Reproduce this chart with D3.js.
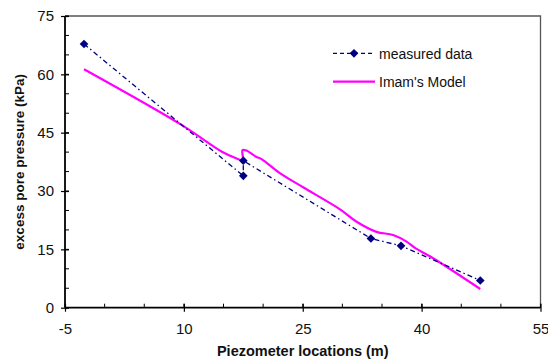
<!DOCTYPE html>
<html><head><meta charset="utf-8">
<script src="https://cdn.jsdelivr.net/npm/d3@7"></script>
<style>
body{margin:0;background:#fff;}
svg{display:block;font-family:"Liberation Sans",Arial,sans-serif;}
</style></head>
<body><svg id="c" width="548" height="360"></svg>
<script>
// Data
const measuredX = [-2.6, 17.5, 17.5, 33.6, 37.4, 47.4];
const measuredY = [67.8, 33.9, 37.8, 17.8, 15.9, 7.0];
const modelX = [-2.6, 9.7, 14.8, 16.3, 17.4, 17.4, 17.9, 19.1, 19.8, 22.1, 25.1, 29.7, 31.8, 34.3, 36.4, 38.1, 39.2, 41.3, 47.4];
const modelY = [61.3, 47.0, 40.1, 38.7, 38.0, 40.5, 40.4, 38.8, 38.2, 34.6, 30.9, 25.3, 22.1, 19.5, 18.7, 17.0, 15.3, 12.9, 4.8];
const xTicks = [-5, 10, 25, 40, 55];
const yTicks = [0, 15, 30, 45, 60, 75];
const xMinor = d3.range(-5, 55.1, 5);
const yMinor = d3.range(0, 75.1, 5);
const seriesNames = ["measured data", "Imam's Model"];
const xTitle = "Piezometer locations (m)";
const yTitle = "excess pore pressure (kPa)";

const svg = d3.select("#c");
const x = d3.scaleLinear().domain([-5, 55]).range([65, 540.5]);
const y = d3.scaleLinear().domain([0, 75]).range([307.7, 16]);

// frame (top, right)
svg.append("path")
  .attr("d", `M${x(-5)},${y(75)}H${x(55)}V${y(0)}`)
  .attr("fill", "none").attr("stroke", "#555").attr("stroke-width", 1.3);

// minor ticks (inside)
svg.append("g").selectAll("line").data(xMinor).join("line")
  .attr("x1", d => x(d)).attr("x2", d => x(d))
  .attr("y1", y(0)).attr("y2", y(0) - 4)
  .attr("stroke", "#000").attr("stroke-width", 1);
svg.append("g").selectAll("line").data(yMinor).join("line")
  .attr("y1", d => y(d)).attr("y2", d => y(d))
  .attr("x1", x(-5)).attr("x2", x(-5) + 4)
  .attr("stroke", "#000").attr("stroke-width", 1);

// axes via d3
const fmt = d => String(d);
const xAxis = svg.append("g").attr("transform", `translate(0,${y(0)})`)
  .call(d3.axisBottom(x).tickValues(xTicks).tickSize(4).tickPadding(12).tickFormat(fmt));
const yAxis = svg.append("g").attr("transform", `translate(${x(-5)},0)`)
  .call(d3.axisLeft(y).tickValues(yTicks).tickSize(4).tickPadding(7).tickFormat(fmt));
[xAxis, yAxis].forEach(g => {
  g.select(".domain").attr("stroke", "#000").attr("stroke-width", 1.8);
  g.selectAll(".tick line").attr("stroke", "#000").attr("stroke-width", 1.2);
  g.selectAll("text").attr("font-size", 15).attr("fill", "#111")
    .attr("font-family", "'Liberation Sans',Arial,sans-serif");
});
xAxis.selectAll(".tick line").attr("y1", -4);
yAxis.selectAll(".tick line").attr("x1", 4);
yAxis.select(".domain").attr("d", `M0,${y(75)}V${y(0)}`);
xAxis.select(".domain").attr("d", `M${x(-5)},0H${x(55)}`);

// axis titles
svg.append("text").attr("x", (x(-5) + x(55)) / 2).attr("y", 356)
  .attr("text-anchor", "middle").attr("font-weight", "bold").attr("font-size", 14.5)
  .attr("fill", "#111").text(xTitle);
svg.append("text").attr("transform", `translate(24,${(y(0) + y(75)) / 2}) rotate(-90)`)
  .attr("text-anchor", "middle").attr("font-weight", "bold").attr("font-size", 13.5)
  .attr("fill", "#111").text(yTitle);

// model line
const model = modelX.map((v, i) => [v, modelY[i]]);
const meas = measuredX.map((v, i) => [v, measuredY[i]]);
const line = d3.line().x(d => x(d[0])).y(d => y(d[1]));
svg.append("path").datum(model)
  .attr("d", line.curve(d3.curveCatmullRom.alpha(0.5)))
  .attr("fill", "none").attr("stroke", "#ff00ff").attr("stroke-width", 2.2);

// measured line
const line2 = d3.line().x(d => x(d[0])).y(d => y(d[1]));
svg.append("path").datum(meas).attr("d", line2)
  .attr("fill", "none").attr("stroke", "#000080").attr("stroke-width", 1.3)
  .attr("stroke-dasharray", "5,3,1.5,3");
const diamond = d3.symbol().type(d3.symbolDiamond2).size(48);
svg.append("g").selectAll("path").data(meas).join("path")
  .attr("transform", d => `translate(${x(d[0])},${y(d[1])})`)
  .attr("d", diamond).attr("fill", "#000080");

// legend
const lg = svg.append("g");
lg.append("line").attr("x1", 333).attr("x2", 375).attr("y1", 53.3).attr("y2", 53.3)
  .attr("stroke", "#000080").attr("stroke-width", 1.3).attr("stroke-dasharray", "4,3");
lg.append("path").attr("transform", "translate(354,53.3)").attr("d", diamond).attr("fill", "#000080");
lg.append("line").attr("x1", 333).attr("x2", 375).attr("y1", 81.7).attr("y2", 81.7)
  .attr("stroke", "#ff00ff").attr("stroke-width", 2.2);
lg.selectAll("text").data(seriesNames).join("text")
  .attr("x", 379).attr("y", (d, i) => 58.5 + i * 28.4)
  .attr("font-size", 14).attr("fill", "#111").text(d => d);
</script></body></html>
